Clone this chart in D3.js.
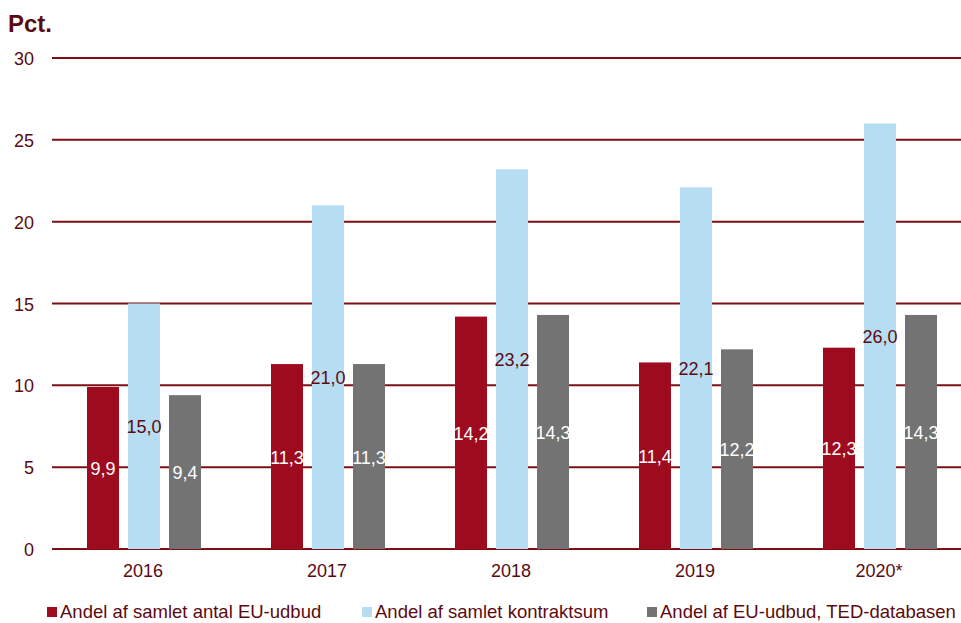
<!DOCTYPE html>
<html>
<head>
<meta charset="utf-8">
<script src="https://cdn.jsdelivr.net/npm/d3@7"></script>
<style>
  body { margin: 0; background: #fff; }
  svg { font-family: "Liberation Sans", Arial, sans-serif; }
</style>
</head>
<body>
<svg id="chart" width="961" height="623"></svg>
<script>
const years = ["2016", "2017", "2018", "2019", "2020*"];
const series = ["Andel af samlet antal EU-udbud", "Andel af samlet kontraktsum", "Andel af EU-udbud, TED-databasen"];
const antal = [9.9, 11.3, 14.2, 11.4, 12.3];
const kontrakt = [15.0, 21.0, 23.2, 22.1, 26.0];
const ted = [9.4, 11.3, 14.3, 12.2, 14.3];
const yTicks = [0, 5, 10, 15, 20, 25, 30];

const colors = ["#9e0b1e", "#b7ddf3", "#737373"];
const labelColors = ["#fff", "#5c0a10", "#fff"];
const textColor = "#5c0a10";
const gridColor = "#7d1015";

const values = [antal, kontrakt, ted];
const svg = d3.select("#chart");

const y = d3.scaleLinear().domain([0, 30]).range([549, 58]);
const x0 = d3.scaleBand().domain(years).range([52, 972]);
const x1 = d3.scaleBand().domain(d3.range(series.length))
  .range([35, 149]).paddingInner(0.22);

// grid lines behind the bars
svg.append("g").selectAll("line").data(yTicks).enter().append("line")
  .attr("x1", 52).attr("x2", 961)
  .attr("y1", d => y(d)).attr("y2", d => y(d))
  .attr("stroke", gridColor).attr("stroke-width", 2);

svg.append("g").selectAll("text").data(yTicks).enter().append("text")
  .attr("x", 34).attr("y", d => y(d) + 7)
  .attr("text-anchor", "end").attr("font-size", 18).attr("fill", textColor)
  .text(d => d);

svg.append("text").attr("x", 8).attr("y", 32)
  .attr("font-size", 24).attr("font-weight", "bold").attr("fill", textColor)
  .text("Pct.");

// bars + value labels
const groups = svg.append("g").selectAll("g").data(years).enter().append("g")
  .attr("transform", d => `translate(${x0(d)},0)`);

groups.each(function (yr, i) {
  const g = d3.select(this);
  series.forEach((s, j) => {
    const v = values[j][i];
    g.append("rect")
      .attr("x", x1(j)).attr("width", x1.bandwidth())
      .attr("y", y(v)).attr("height", y(0) - y(v))
      .attr("fill", colors[j]);
    g.append("text")
      .attr("x", x1(j) + x1.bandwidth() / 2)
      .attr("y", (y(v) + y(0)) / 2 + 7)
      .attr("text-anchor", "middle").attr("font-size", 18)
      .attr("fill", labelColors[j])
      .text(v.toFixed(1).replace(".", ","));
  });
});

// x labels
svg.append("g").selectAll("text").data(years).enter().append("text")
  .attr("x", d => x0(d) + x0.bandwidth() / 2 - 1).attr("y", 577)
  .attr("text-anchor", "middle").attr("font-size", 18).attr("fill", textColor)
  .text(d => d);

// legend
const legendX = [47, 362, 647];
const legend = svg.append("g").selectAll("g").data(series).enter().append("g")
  .attr("transform", (d, i) => `translate(${legendX[i]},0)`);
legend.append("rect").attr("x", 0).attr("y", 607).attr("width", 10).attr("height", 10)
  .attr("fill", (d, i) => colors[i]);
legend.append("text").attr("x", 13).attr("y", 618)
  .attr("font-size", 18.5).attr("fill", textColor)
  .text(d => d);
</script>
</body>
</html>
